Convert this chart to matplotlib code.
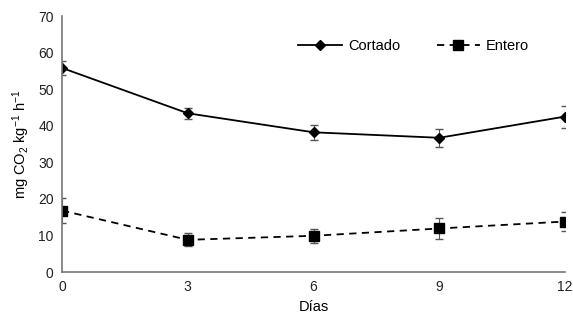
import numpy as np
import matplotlib
matplotlib.use("Agg")
import matplotlib.pyplot as plt

plt.rcParams['font.family'] = ['Liberation Sans', 'DejaVu Sans']
plt.rcParams['mathtext.default'] = 'regular'

dias = [0, 3, 6, 9, 12]
cortado = [55.8, 43.4, 38.2, 36.7, 42.5]
cortado_err = [2.0, 1.5, 2.0, 2.5, 3.0]
entero = [16.8, 8.8, 9.9, 11.9, 13.8]
entero_err = [3.3, 1.8, 1.9, 3.0, 2.5]

fig = plt.figure(figsize=(5.73, 3.2), dpi=100)
ax = fig.add_axes([62/573, 48/320, 503/573, 256/320])

# error bars first, lines with markers on top
ax.errorbar(dias, cortado, yerr=cortado_err, fmt='none', ecolor='#555555',
            elinewidth=0.8, capsize=3)
ax.errorbar(dias, entero, yerr=entero_err, fmt='none', ecolor='#555555',
            elinewidth=0.8, capsize=3)
l1, = ax.plot(dias, cortado, color='black', lw=1.3, marker='D', ms=5)
l2, = ax.plot(dias, entero, color='black', lw=1.3, ls=(0, (4, 3)), marker='s', ms=7)

ax.set_xlim(0, 12)
ax.set_ylim(0, 70)
ax.set_xticks(dias)
ax.set_yticks(range(0, 71, 10))
ax.tick_params(length=0, labelsize=10, colors='#222222', pad=6)

for s in ['top', 'right']:
    ax.spines[s].set_visible(False)
for s in ['left', 'bottom']:
    ax.spines[s].set_color('#777777')
    ax.spines[s].set_linewidth(1.2)

ax.set_xlabel('Días', fontsize=10.5, labelpad=4)
ax.set_ylabel('mg CO$_2$ kg$^{-1}$ h$^{-1}$', fontsize=10.5, labelpad=4)

ax.legend([l1, l2], ['Cortado', 'Entero'], loc='upper right',
          bbox_to_anchor=(0.955, 0.96), ncol=2, frameon=False, fontsize=10.5,
          handlelength=3, columnspacing=2.5, handletextpad=0.4)

fig.savefig('out.png', dpi=100)
